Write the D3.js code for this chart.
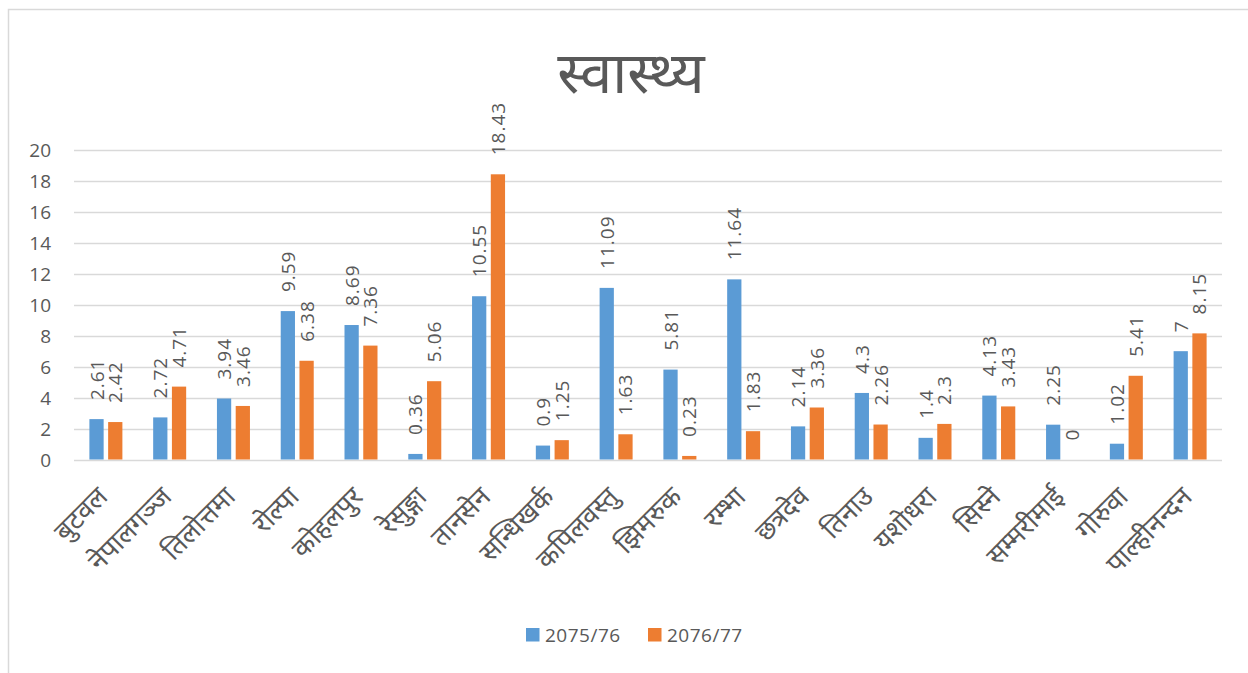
<!DOCTYPE html>
<html>
<head>
<meta charset="utf-8">
<script src="https://cdn.jsdelivr.net/npm/d3@7"></script>
<style>
  html, body { margin: 0; padding: 0; background: #fff; }
  svg { display: block; }
  text { font-family: "Open Sans", "Noto Sans Devanagari", "Noto Sans", sans-serif; fill: #595959; }
</style>
</head>
<body>
<svg id="chart" width="1248" height="673"></svg>
<script>
const title = "स्वास्थ्य";
const categories = ["बुटवल", "नेपालगञ्ज", "तिलोत्तमा", "रोल्पा", "कोहलपुर", "रेसुङ्गा", "तानसेन", "सन्धिखर्क", "कपिलवस्तु", "झिमरुक", "रम्भा", "छत्रदेव", "तिनाउ", "यशोधरा", "सिस्ने", "सम्मरीमाई", "गोरुवा", "पाल्हीनन्दन"];
const seriesNames = ["2075/76", "2076/77"];
const values2075 = [2.61, 2.72, 3.94, 9.59, 8.69, 0.36, 10.55, 0.9, 11.09, 5.81, 11.64, 2.14, 4.3, 1.4, 4.13, 2.25, 1.02, 7];
const values2076 = [2.42, 4.71, 3.46, 6.38, 7.36, 5.06, 18.43, 1.25, 1.63, 0.23, 1.83, 3.36, 2.26, 2.3, 3.43, 0, 5.41, 8.15];
const yTicks = [0, 2, 4, 6, 8, 10, 12, 14, 16, 18, 20];
const colors = ["#5B9BD5", "#ED7D31"];

const svg = d3.select("#chart");

// chart border (only top and left visible)
svg.append("rect").attr("x", 8.5).attr("y", 9.5).attr("width", 1300).attr("height", 700)
  .attr("fill", "none").attr("stroke", "#D9D9D9").attr("stroke-width", 1.5);

const x = d3.scaleBand().domain(categories).range([74, 1222]).padding(0);
const xs = d3.scaleBand().domain(seriesNames).range([-16.5, 16.5]).paddingInner(0.24);
const y = d3.scaleLinear().domain([0, 20]).range([459.5, 150]);

// gridlines
svg.append("g").selectAll("line").data(yTicks).join("line")
  .attr("x1", 74).attr("x2", 1222)
  .attr("y1", d => Math.round(y(d)) + 0.5).attr("y2", d => Math.round(y(d)) + 0.5)
  .attr("stroke", "#D9D9D9").attr("stroke-width", 1.3);

// y tick labels
svg.append("g").selectAll("text").data(yTicks).join("text")
  .attr("x", 51).attr("y", d => y(d))
  .attr("text-anchor", "end").attr("dominant-baseline", "central")
  .style("font-size", "19px")
  .text(d => d);

const series = [values2075, values2076];
series.forEach((vals, si) => {
  const g = svg.append("g");
  g.selectAll("rect").data(vals).join("rect")
    .attr("x", (d, i) => x(categories[i]) + x.bandwidth() / 2 + xs(seriesNames[si]))
    .attr("width", xs.bandwidth())
    .attr("y", d => y(d))
    .attr("height", d => y(0) - y(d))
    .attr("fill", colors[si]);
  g.selectAll("text").data(vals).join("text")
    .attr("transform", (d, i) => {
      const cx = x(categories[i]) + x.bandwidth() / 2 + xs(seriesNames[si]) + xs.bandwidth() / 2;
      return `translate(${cx},${y(d) - 19}) rotate(-90)`;
    })
    .attr("text-anchor", "start").attr("dominant-baseline", "central")
    .style("font-size", "19px").style("letter-spacing", "1px")
    .text(d => String(d));
});

// category labels
svg.append("g").selectAll("text").data(categories).join("text")
  .attr("transform", d => `translate(${x(d) + x.bandwidth() / 2 - 4},${491}) rotate(-45)`)
  .attr("text-anchor", "end").attr("dominant-baseline", "central")
  .style("font-size", "27px")
  .text(d => d);

// title
svg.append("text").attr("x", 631).attr("y", 70)
  .attr("text-anchor", "middle").attr("dominant-baseline", "central")
  .style("font-size", "58px")
  .text(title);

// legend
const legend = svg.append("g");
const legendX = [526, 648];
seriesNames.forEach((n, i) => {
  legend.append("rect").attr("x", legendX[i]).attr("y", 628).attr("width", 13.5).attr("height", 13.5).attr("fill", colors[i]);
  legend.append("text").attr("x", legendX[i] + 19).attr("y", 635)
    .attr("dominant-baseline", "central").style("font-size", "19px").style("letter-spacing", "0.5px")
    .text(n);
});
</script>
</body>
</html>
